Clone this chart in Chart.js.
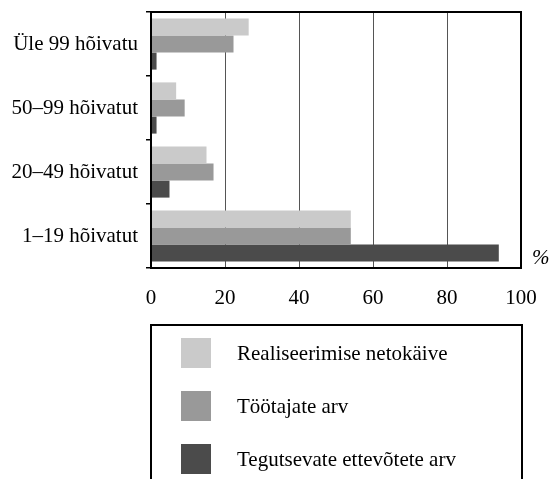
<!DOCTYPE html>
<html lang="et">
<head>
<meta charset="utf-8">
<script src="https://cdn.jsdelivr.net/npm/chart.js@4.4.1/dist/chart.umd.min.js"></script>
<style>
    body { margin: 0; background: #fff; width: 551px; height: 479px; overflow: hidden; position: relative; font-family: "Liberation Serif", "DejaVu Serif", serif; }
    #wrap { position: absolute; left: 0; top: 0; width: 551px; height: 479px; }
    #legend { position: absolute; left: 150px; top: 324px; width: 369px; height: 200px; border: 2px solid #000; }
    .item { position: absolute; left: 29px; height: 30px; display: flex; align-items: center; font-size: 21px; color: #000; }
    .item span { display: inline-block; width: 30px; height: 30px; margin-right: 26px; }
</style>
</head>
<body>
<div id="wrap"><canvas id="chart"></canvas></div>
<div id="legend"></div>
<script>
// Datos
const categorias = ['Üle 99 hõivatu', '50–99 hõivatut', '20–49 hõivatut', '1–19 hõivatut'];
const seriesNombres = ['Realiseerimise netokäive', 'Töötajate arv', 'Tegutsevate ettevõtete arv'];
const netokaive = [26.4, 6.8, 15.0, 54.0];
const tootajad = [22.3, 9.1, 16.9, 54.0];
const ettevotted = [1.5, 1.5, 5.0, 94.0];
const xTicks = [0, 20, 40, 60, 80, 100];
const colores = ['#cacaca', '#999999', '#4b4b4b'];

const fuente = { family: '"Liberation Serif", "DejaVu Serif", serif', size: 21 };

// Marco negro alrededor del área del gráfico y el signo %
const marcoPlugin = {
    id: 'marco',
    afterDraw(chart) {
        const { ctx, chartArea } = chart;
        ctx.save();
        ctx.strokeStyle = '#000';
        ctx.lineWidth = 2;
        ctx.strokeRect(chartArea.left, chartArea.top, chartArea.right - chartArea.left, chartArea.bottom - chartArea.top);
        ctx.fillStyle = '#000';
        ctx.font = 'italic 21px "Liberation Serif", serif';
        ctx.textAlign = 'left';
        ctx.textBaseline = 'middle';
        ctx.fillText('%', chartArea.right + 11, chartArea.bottom - 10);
        ctx.restore();
    }
};

function setupChart() {
    const valores = [netokaive, tootajad, ettevotted];
    new Chart(document.getElementById('chart'), {
        type: 'bar',
        data: {
            labels: categorias,
            datasets: valores.map((v, i) => ({
                label: seriesNombres[i],
                data: v,
                backgroundColor: colores[i],
                borderWidth: 0,
                categoryPercentage: 0.8,
                barPercentage: 1.0
            }))
        },
        options: {
            indexAxis: 'y',
            responsive: true,
            maintainAspectRatio: false,
            animation: false,
            layout: { padding: { top: 12, right: 30, bottom: 171, left: 0 } },
            plugins: {
                legend: { display: false },
                tooltip: { enabled: false }
            },
            scales: {
                x: {
                    min: 0,
                    max: 100,
                    afterBuildTicks: (scale) => { scale.ticks = xTicks.map(v => ({ value: v })); },
                    afterFit: (scale) => {
                        scale.height = 40;
                        scale.paddingLeft = 0;
                        scale.paddingRight = 0;
                    },
                    border: { display: false },
                    grid: { color: '#555', lineWidth: 1, drawTicks: false },
                    ticks: { color: '#000', font: fuente, padding: 18, maxRotation: 0 }
                },
                y: {
                    afterFit: (scale) => {
                        scale.width = 151;
                        scale.paddingTop = 0;
                        scale.paddingBottom = 0;
                    },
                    border: { display: false },
                    grid: { drawOnChartArea: false, drawTicks: true, tickLength: 5, color: '#000', lineWidth: 1.5 },
                    ticks: { color: '#000', font: fuente, padding: 8 }
                }
            }
        },
        plugins: [marcoPlugin]
    });
}

// Leyenda en caja
function setupLegend() {
    const legend = document.getElementById('legend');
    legend.innerHTML = seriesNombres.map((nombre, i) =>
        `<div class="item" style="top:${12 + i * 53}px"><span style="background:${colores[i]}"></span>${nombre}</div>`
    ).join('');
}

setupChart();
setupLegend();
</script>
</body>
</html>
